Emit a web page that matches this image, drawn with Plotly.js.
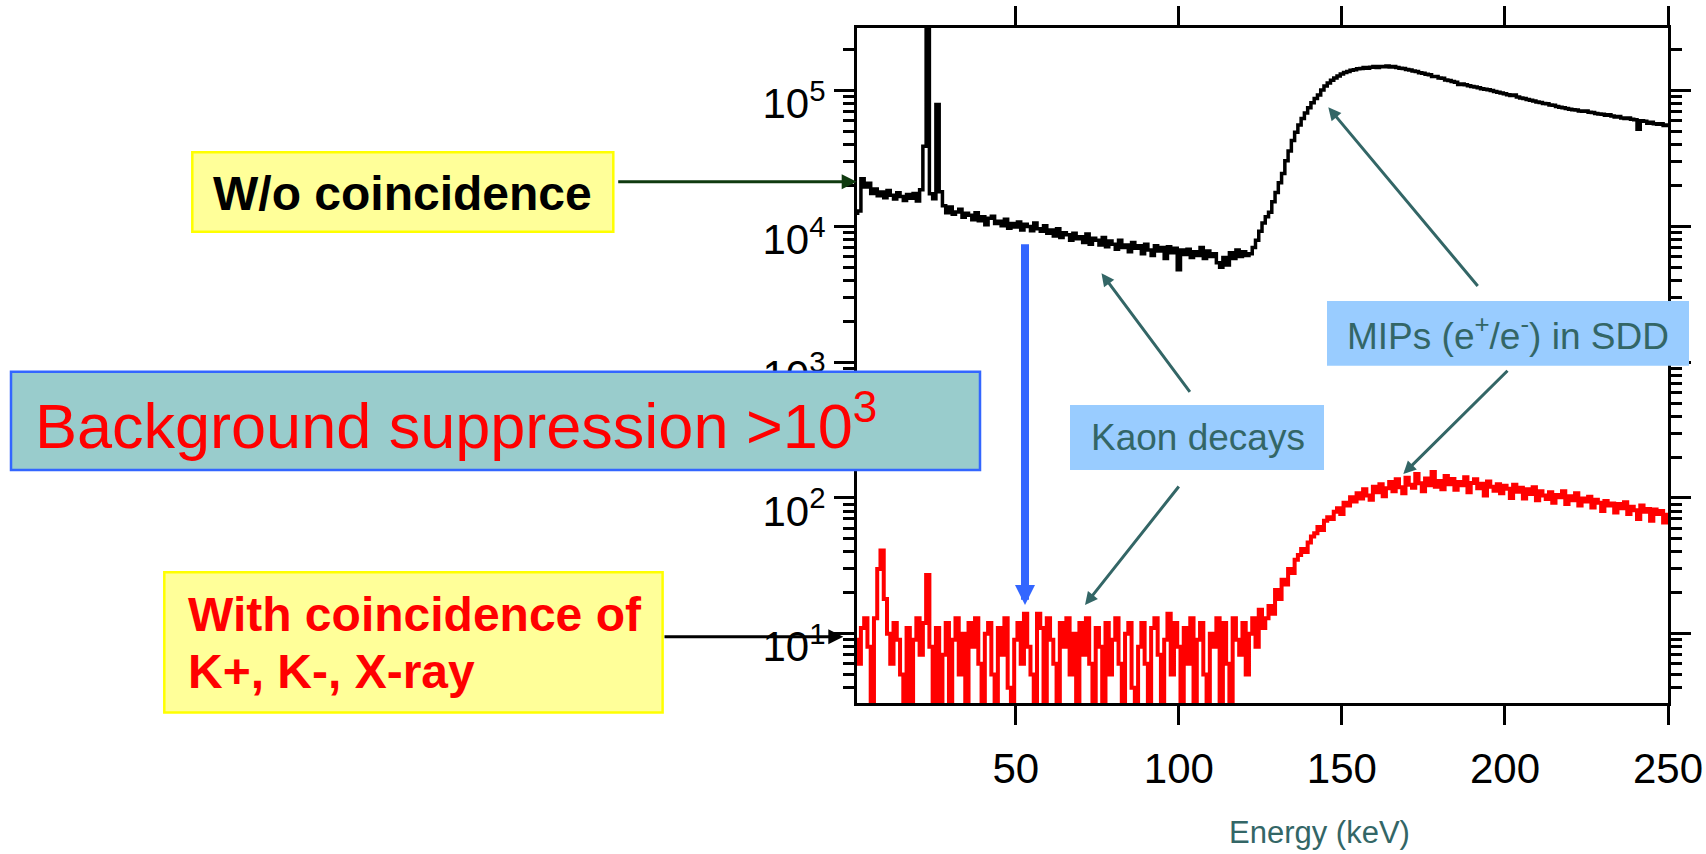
<!DOCTYPE html>
<html><head><meta charset="utf-8">
<script src="https://cdn.plot.ly/plotly-3.0.1.min.js"></script>
<style>html,body{margin:0;padding:0;background:#fff;} #chart{width:1706px;height:854px;}</style>
</head><body><div id="chart"></div>
<script>
// ---- data (1 keV bins, first bin centred at 1 keV) ----
const binStartKeV = 1;
const binWidthKeV = 1;
const countsNoCoincidence = [
12500,13000,22500,19500,20800,17500,18900,16800,17900,16300,
18400,17000,15900,17700,16600,15500,17200,16100,17500,15400,
18600,39000,400000,17400,16000,79000,18000,14200,12600,13900,
12300,12800,13400,11700,12500,12100,11200,12600,11000,11800,
10300,11500,11900,10500,10900,10100,11300,9700,10500,9900,
10800,9400,10400,10000,9300,10600,9600,9200,10100,8900,
9400,8500,9600,8300,9000,8700,7900,8900,8100,8400,
7600,8800,7400,8200,7900,7300,8300,7100,7800,7400,
6800,7900,7000,7300,6500,7600,6900,7200,6300,7400,
6700,6100,7200,6600,7000,5800,7100,6400,6900,4800,
6700,6200,6800,5900,6500,6100,7000,5800,6600,6000,
6300,5400,5000,5900,5200,6400,5800,6700,6000,6500,
6100,6300,7000,7900,9200,10600,11800,12700,15200,17800,
21000,24500,30500,36000,43000,49500,56000,62500,68500,75000,
81500,87500,93000,101000,108500,114000,119500,124000,128500,132500,
136000,138500,141500,142500,145000,146000,148000,146500,149000,150500,
148500,151000,150000,152000,149500,150500,148000,146500,145500,143000,
142000,139500,138500,135500,134500,132000,131000,127500,127000,124000,
123500,120000,119000,117000,115500,111000,112000,110500,109000,107500,
106500,105000,103500,102500,101500,100500,98500,97500,96000,95000,
93500,92000,93000,90000,88500,87500,86000,85000,84000,82500,
82000,80500,80000,78500,78000,76500,75500,75000,74000,73000,
72500,72000,71000,70500,71000,69500,69000,68000,67500,67000,
66000,66500,65000,64000,64500,63000,62500,63000,61500,61000,
52000,60000,59500,57500,58500,57000,56500,57000,55500,56000
];
const countsWithCoincidence = [
9,6,11,13,8,1,13,30,41,18,
10,6,12,9,5,1,11,1,9,13,
7,12,27,8,1,11,1,7,12,1,
9,13,5,10,1,12,8,13,6,1,
10,12,5,1,11,7,13,4,1,9,
12,6,14,8,5,1,14,11,1,13,
9,6,1,12,8,13,5,10,1,12,
7,13,6,1,11,8,1,12,5,9,
13,6,1,10,12,4,1,8,12,6,
1,11,13,7,1,9,14,5,12,8,
1,11,6,13,1,9,12,5,1,10,
8,13,1,12,6,1,13,9,7,12,
5,10,13,8,15,11,13,16,14,21,
18,25,23,30,28,35,38,42,40,47,
52,55,61,58,68,72,70,79,84,76,
92,88,101,94,108,99,116,104,97,121,
110,126,103,118,131,112,137,120,108,141,
125,119,150,128,112,139,124,155,121,133,
116,145,126,138,115,131,124,142,110,129,
137,118,127,104,132,121,113,126,108,123,
117,100,125,111,119,99,116,107,120,96,
112,104,98,110,92,105,101,112,90,103,
96,108,88,99,94,102,85,97,92,80,
95,88,91,78,90,84,93,76,86,81,
70,88,79,83,68,82,76,80,66,75
];
const xTickVals = [50, 100, 150, 200, 250];
const xTickText = ['50', '100', '150', '200', '250'];
const yTickVals = [10, 100, 1000, 10000, 100000];
const yTickText = ['10<sup>1</sup>', '10<sup>2</sup>', '10<sup>3</sup>', '10<sup>4</sup>', '10<sup>5</sup>'];
const yMinorVals = [4,5,6,7,8,9, 20,30,40,50,60,70,80,90, 200,300,400,500,600,700,800,900,
  2000,3000,4000,5000,6000,7000,8000,9000, 20000,30000,40000,50000,60000,70000,80000,90000, 200000];
const xTitle = 'Energy (keV)';
const labelNoCoinc = '<b>W/o coincidence</b>';
const labelSuppression = 'Background suppression &gt;10<sup>3</sup>';
const labelWithCoinc1 = '<b>With coincidence of</b>';
const labelWithCoinc2 = '<b>K+, K-, X-ray</b>';
const labelKaon = 'Kaon decays';
const labelMips = 'MIPs (e<sup>+</sup>/e<sup>-</sup>) in SDD';

// ---- layout helpers (pixel -> paper) ----
const PL = 857, PR = 1668, PT = 28, PB = 703;
const W = PR - PL, H = PB - PT;
const xp = px => (px - PL) / W;
const yp = py => (PB - py) / H;
const NARROW = 'Liberation Sans Narrow, Arial Narrow, sans-serif';
const ARIAL = 'Liberation Sans, Arial, sans-serif';
const TEAL = '#336666';

function rect(x0, y0, x1, y1, fill, lc, lw) {
  return {type: 'rect', xref: 'paper', yref: 'paper', layer: 'above',
    x0: xp(x0), x1: xp(x1), y0: yp(y1), y1: yp(y0),
    fillcolor: fill, line: {color: lc || fill, width: lw || 0}};
}
function arrow(tx, ty, hx, hy, color, width, size) {
  return {xref: 'paper', yref: 'paper', x: xp(hx), y: yp(hy), ax: tx - hx, ay: ty - hy,
    axref: 'pixel', ayref: 'pixel', text: '', showarrow: true,
    arrowcolor: color, arrowwidth: width, arrowsize: size, arrowhead: 2};
}
function label(x, y, text, size, color, anchor) {
  return {xref: 'paper', yref: 'paper', x: xp(x), y: yp(y), xanchor: anchor || 'center',
    yanchor: 'middle', text: text, showarrow: false,
    font: {family: ARIAL, size: size, color: color}};
}

const traces = [
  {type: 'scatter', mode: 'lines', x0: binStartKeV, dx: binWidthKeV, y: countsNoCoincidence,
   line: {color: '#000000', width: 3.5, shape: 'hvh'}, hoverinfo: 'skip'},
  {type: 'scatter', mode: 'lines', x0: binStartKeV, dx: binWidthKeV, y: countsWithCoincidence,
   line: {color: '#FF0000', width: 4, shape: 'hvh'}, hoverinfo: 'skip'}
];

const layout = {
  width: 1706, height: 854, showlegend: false,
  paper_bgcolor: '#ffffff', plot_bgcolor: '#ffffff',
  margin: {l: PL, r: 1706 - PR, t: PT, b: 854 - PB, pad: 0},
  xaxis: {range: [1.3, 250], tickmode: 'array', tickvals: xTickVals, ticktext: xTickText,
    ticks: 'outside', ticklen: 19, tickwidth: 3, tickcolor: '#000',
    showline: true, linecolor: '#000', linewidth: 3, mirror: 'ticks',
    showgrid: false, zeroline: false, ticklabelstandoff: 8,
    tickfont: {family: NARROW, size: 42, color: '#000'}},
  yaxis: {type: 'log', range: [0.489, 5.462], tickmode: 'array', tickvals: yTickVals, ticktext: yTickText,
    ticks: 'outside', ticklen: 20, tickwidth: 3, tickcolor: '#000',
    showline: true, linecolor: '#000', linewidth: 3, mirror: 'ticks',
    showgrid: false, zeroline: false, ticklabelstandoff: 0, ticklabelshift: 13,
    tickfont: {family: NARROW, size: 42, color: '#000'},
    minor: {tickmode: 'array', tickvals: yMinorVals, ticks: 'outside', ticklen: 11, tickwidth: 3,
      tickcolor: '#000', showgrid: false}},
  shapes: [
    rect(192.3, 152.3, 613.3, 231.7, '#FFFF99', '#FFFF00', 2.5),
    rect(11, 371.7, 980, 470, '#99CCCC', '#3366FF', 2.5),
    rect(164.3, 572.3, 662.6, 712.6, '#FFFF99', '#FFFF00', 2.5),
    rect(1070, 405, 1324, 470, '#99CCFF'),
    rect(1327, 301, 1689, 365.7, '#99CCFF')
  ],
  annotations: [
    label(403, 194, labelNoCoinc, 48, '#000000'),
    label(33, 421.5, labelSuppression, 63, '#FF0000', 'left'),
    label(185.5, 614.4, labelWithCoinc1, 48, '#FF0000', 'left'),
    label(185.5, 671.3, labelWithCoinc2, 48, '#FF0000', 'left'),
    label(1198, 437.3, labelKaon, 37, TEAL),
    label(1508, 333.3, labelMips, 37, TEAL),
    label(1319, 832.5, xTitle, 31, TEAL),
    arrow(616.7, 181.7, 856.7, 181.7, '#0F3A0F', 3, 1),
    arrow(663, 636.7, 843.3, 636.7, '#000000', 3, 1),
    arrow(1025, 242.7, 1025, 605, '#3366FF', 8, 0.5),
    arrow(1191, 393.3, 1101.5, 273.3, TEAL, 3, 0.85),
    arrow(1180, 485, 1085, 605, TEAL, 3, 0.85),
    arrow(1479, 287.5, 1328.3, 107.3, TEAL, 3, 0.85),
    arrow(1509, 369.3, 1403.3, 474, TEAL, 3, 0.85)
  ]
};

Plotly.newPlot('chart', traces, layout, {staticPlot: true, displayModeBar: false});
</script>
</body></html>
